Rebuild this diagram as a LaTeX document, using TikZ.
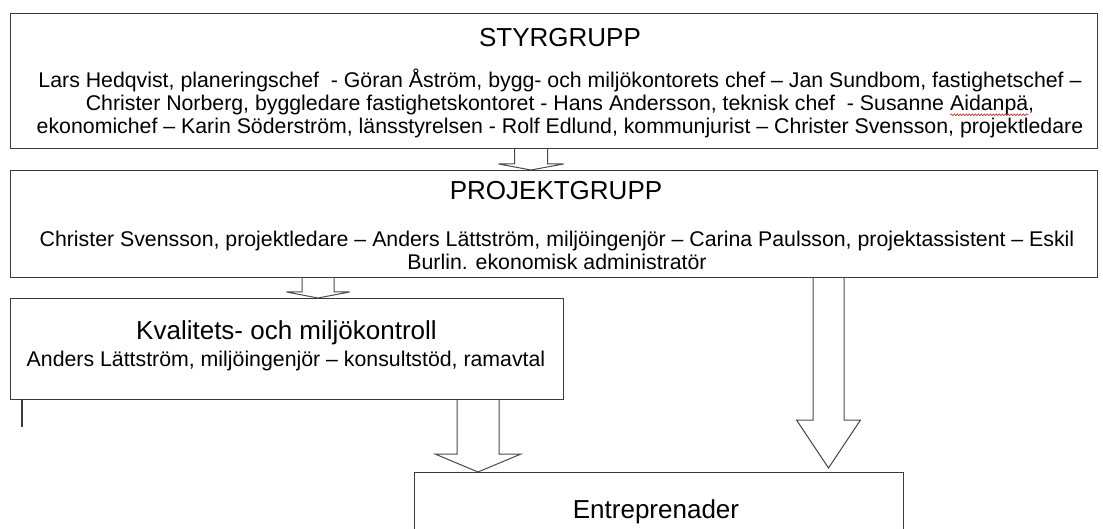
\documentclass[tikz,border=0pt]{standalone}
\usepackage{fontspec}
\setmainfont{Liberation Sans}
\usetikzlibrary{positioning,calc,decorations.pathmorphing}
\definecolor{boxline}{HTML}{3C3C3C}
\definecolor{arrowline}{HTML}{4A4A4A}
\definecolor{spellred}{HTML}{E02020}

% red spell-check wave under a word
\newlength{\wavelen}
\newcommand{\redwave}[1]{\settowidth{\wavelen}{#1}%
  \rlap{\raisebox{-5pt}{\tikz\draw[spellred, line width=0.6pt, decorate,
      decoration={snake, amplitude=0.9pt, segment length=3pt}] (0pt,0pt) -- (\wavelen,0pt);}}#1}

% block arrow: from #1.south to #2.north at x=#3, shaft/head half widths #4/#5, head length #6, gap #7
\newcommand{\fatarrow}[7]{%
  \draw[fat] let \p1=(#1.south), \p2=(#2.north), \p3=(#3,0) in
    (\x3-#4,\y1) -- (\x3-#4,\y2+#7+#6) -- (\x3-#5,\y2+#7+#6) -- (\x3,\y2+#7)
    -- (\x3+#5,\y2+#7+#6) -- (\x3+#4,\y2+#7+#6) -- (\x3+#4,\y1);}

\begin{document}
\begin{tikzpicture}[x=1pt, y=-1pt,
  grp/.style={draw=boxline, line width=1.2pt, anchor=north west, inner sep=0pt},
  ttl/.style={font=\fontsize{26}{30}\selectfont, anchor=base, inner sep=0pt},
  txt/.style={font=\fontsize{21.3}{23}\selectfont, anchor=base, inner sep=0pt, align=center},
  fat/.style={draw=arrowline, line width=1pt, fill=white},
  stub/.style={draw=boxline, line width=1.2pt},
]
\useasboundingbox (0,0) rectangle (1103,529);
\fill[white] (0,0) rectangle (1103,529);
\clip (0,0) rectangle (1103,529);

% ── boxes ──
\node[grp, minimum width=1087, minimum height=135] (styr) at (10,13) {};
\node[grp, minimum width=1087, minimum height=107] (proj) at (10,170) {};
\node[grp, minimum width=553, minimum height=101] (kval) at (10,298) {};
\node[grp, minimum width=489, minimum height=90] (entr) at (414,472) {};

% ── texts (base = last line) ──
\node[ttl] (styrT) at (560,47) {STYRGRUPP};
\node[txt] (styrB) at (560,134) {Lars Hedqvist, planeringschef~ - Göran Åström, bygg- och miljökontorets chef – Jan Sundbom, fastighetschef –\\
  Christer Norberg, byggledare fastighetskontoret - Hans Andersson, teknisk chef~ - Susanne \redwave{Aidanpä},\\
  ekonomichef – Karin Söderström, länsstyrelsen - Rolf Edlund, kommunjurist – Christer Svensson, projektledare};

\node[ttl] (projT) at (556,200) {PROJEKTGRUPP};
\node[txt] (projB) at (557,269.5) {Christer Svensson, projektledare – Anders Lättström, miljöingenjör – Carina Paulsson, projektassistent – Eskil\\
  Burlin. ekonomisk administratör};

\node[ttl] (kvalT) at (286.5,339) {Kvalitets- och miljökontroll};
\node[txt] (kvalB) at (286,366) {Anders Lättström, miljöingenjör – konsultstöd, ramavtal};

\node[ttl] (entrT) at (656,518) {Entreprenader};

% ── arrows ──
\fatarrow{styr}{proj}{531}{16.5}{32.5}{6}{0}
\fatarrow{proj}{kval}{318}{16}{31.5}{6}{0}
\fatarrow{kval}{entr}{478}{21}{43}{18}{0}
\fatarrow{proj}{entr}{828.5}{15.5}{32}{48}{4}

% loose stub under the left box
\draw[stub] ($(kval.south west)+(12,0)$) -- ++(0,27);

\end{tikzpicture}
\end{document}
